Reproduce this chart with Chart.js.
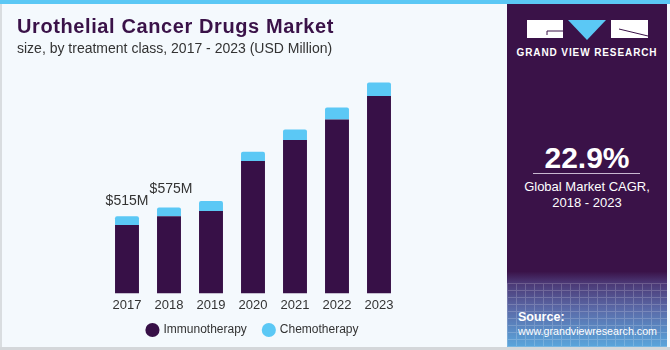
<!DOCTYPE html>
<html>
<head>
<meta charset="utf-8">
<script src="https://cdn.jsdelivr.net/npm/chart.js@4"></script>
<style>
  body { margin: 0; width: 670px; height: 350px; overflow: hidden; background: #f4f9fd; font-family: "Liberation Sans", Arial, sans-serif; }
  #wrap { position: relative; width: 670px; height: 350px; }
  #topbar { position: absolute; left: 0; top: 0; width: 670px; height: 4px; background: #5bc8f5; }
  #leftline { position: absolute; left: 0; top: 4px; width: 2px; height: 346px; background: #d9dde0; }
  #bottomline { position: absolute; left: 0; top: 347px; width: 670px; height: 3px; background: #d4d7da; }
  #title { position: absolute; left: 17px; top: 15px; font-size: 20px; font-weight: bold; letter-spacing: 0.6px; color: #3a1248; white-space: nowrap; }
  #subtitle { position: absolute; left: 17px; top: 40px; font-size: 14px; color: #333; white-space: nowrap; }
  #chartbox { position: absolute; left: 0; top: 0; width: 505px; height: 347px; }
  #panel { position: absolute; left: 507px; top: 4px; width: 160px; height: 343px; background: linear-gradient(to bottom, #3a1248 0%, #3a1248 78%, #4a3572 81%, #5a6aa8 89%, #5aa6dc 100%); overflow: hidden; }
  #grid { position: absolute; left: 0; top: 279px; width: 160px; height: 64px; opacity: 0.18;
    background-image: linear-gradient(to right, #fff 1px, transparent 1px), linear-gradient(to bottom, #fff 1px, transparent 1px);
    background-size: 9px 7px; }
  #brand { position: absolute; left: 0; width: 160px; top: 43px; text-align: center; color: #fff; font-weight: bold; font-size: 10px; letter-spacing: 0.9px; }
  #cagr { position: absolute; left: 0; width: 160px; top: 137px; text-align: center; color: #fff; font-weight: bold; font-size: 30px; }
  #rule { position: absolute; left: 26px; width: 107px; top: 169px; height: 1px; background: #c8b8d0; }
  #cagrtext { position: absolute; left: 0; width: 160px; top: 175px; text-align: center; color: #fff; font-size: 13px; line-height: 16px; }
  #source { position: absolute; left: 11px; top: 306px; color: #fff; font-size: 10.7px; line-height: 14px; }
  #source b { font-size: 12.5px; }
</style>
</head>
<body>
<div id="wrap">
  <div id="chartbox"><canvas id="marketChart" width="505" height="347"></canvas></div>
  <div id="topbar"></div>
  <div id="leftline"></div>
  <div id="title">Urothelial Cancer Drugs Market</div>
  <div id="subtitle">size, by treatment class, 2017 - 2023 (USD Million)</div>
  <div id="panel">
    <div id="grid"></div>
    <svg style="position:absolute;left:0;top:0" width="160" height="44">
      <rect x="20" y="16" width="36" height="18" fill="#fff"/>
      <path d="M40 27 H56 M40 27 V31" stroke="#3a1248" stroke-width="1" fill="none"/>
      <polygon points="61,16 99,16 80,36" fill="#5bc8f5"/>
      <rect x="104" y="16" width="37" height="18" fill="#fff"/>
      <path d="M112 25 L141 32" stroke="#3a1248" stroke-width="1"/>
    </svg>
    <div id="brand">GRAND VIEW RESEARCH</div>
    <div id="cagr">22.9%</div>
    <div id="rule"></div>
    <div id="cagrtext">Global Market CAGR,<br>2018 - 2023</div>
    <div id="source"><b>Source:</b><br>www.grandviewresearch.com</div>
  </div>
  <div id="bottomline"></div>
</div>
<script>
// values (USD Million)
const years = ['2017', '2018', '2019', '2020', '2021', '2022', '2023'];
const immunotherapy = [457, 515, 551, 885, 1026, 1163, 1319];
const chemotherapy = [58, 60, 67, 62, 69, 79, 90];
const totalLabels = ['$515M', '$575M', '', '', '', '', ''];

// draws the total labels above the first bars
const totalsPlugin = {
  id: 'totals',
  afterDatasetsDraw(chart) {
    const c = chart.ctx;
    const meta = chart.getDatasetMeta(1);
    c.save();
    c.font = '14px "Liberation Sans", Arial, sans-serif';
    c.fillStyle = '#333';
    c.textAlign = 'center';
    c.textBaseline = 'bottom';
    meta.data.forEach((bar, i) => {
      if (totalLabels[i]) c.fillText(totalLabels[i], bar.x + i * 2, bar.y - 8 - i * 3);
    });
    c.restore();
  }
};

const ctx = document.getElementById('marketChart').getContext('2d');
const marketChart = new Chart(ctx, {
  type: 'bar',
  data: {
    labels: years,
    datasets: [{
      label: 'Immunotherapy',
      data: immunotherapy,
      backgroundColor: '#371047',
      borderSkipped: false,
      barPercentage: 0.57,
      categoryPercentage: 1
    }, {
      label: 'Chemotherapy',
      data: chemotherapy,
      backgroundColor: '#5bc8f5',
      borderRadius: { topLeft: 2, topRight: 2 },
      borderSkipped: false,
      barPercentage: 0.57,
      categoryPercentage: 1
    }]
  },
  options: {
    responsive: false,
    animation: false,
    layout: { padding: { left: 106, right: 105, top: 69, bottom: 1 } },
    plugins: {
      tooltip: { enabled: false },
      legend: {
        position: 'bottom',
        labels: {
          usePointStyle: true,
          pointStyle: 'circle',
          boxWidth: 10,
          boxHeight: 10,
          padding: 7,
          color: '#333',
          font: { family: '"Liberation Sans", Arial, sans-serif', size: 12 },
          // extra gap after the first item
          generateLabels(chart) {
            const items = Chart.defaults.plugins.legend.labels.generateLabels(chart);
            items[0].text += '   ';
            return items;
          }
        }
      }
    },
    scales: {
      x: {
        stacked: true,
        grid: { display: false, drawTicks: false },
        border: { display: false },
        ticks: { color: '#333', padding: 4, font: { family: '"Liberation Sans", Arial, sans-serif', size: 13 } }
      },
      y: {
        stacked: true,
        display: false,
        min: 0,
        max: 1500
      }
    }
  },
  plugins: [totalsPlugin]
});
</script>
</body>
</html>
